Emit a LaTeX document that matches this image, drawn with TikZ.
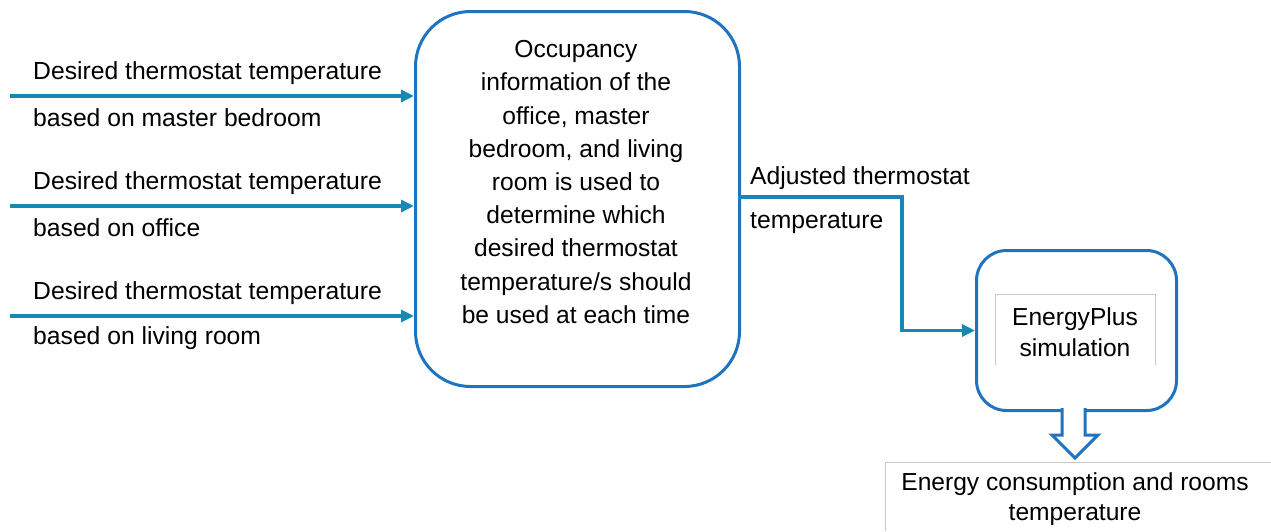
\documentclass[tikz,border=0pt]{standalone}
\usepackage{fontspec}
\setmainfont{Liberation Sans}
\usetikzlibrary{arrows.meta}
\definecolor{arrteal}{HTML}{1788B3}
\definecolor{boxblue}{HTML}{1F74C0}
\definecolor{lightgray}{HTML}{C8C8C8}
\tikzset{
  arr/.style={draw=arrteal, line width=3.5pt, -{Triangle[length=13pt,width=12pt]}},
  roundbox/.style={draw=boxblue, line width=3pt, fill=white},
  lbl/.style={font=\fontsize{24.7pt}{28pt}\selectfont, inner sep=0pt, anchor=west},
  ctext/.style={font=\fontsize{24.6pt}{33.2pt}\selectfont, inner sep=0pt, align=center}
}
\begin{document}
\begin{tikzpicture}[x=1pt,y=-1pt]
\useasboundingbox (0,0) rectangle (1271,531);
% big box
\node[roundbox, rounded corners=55pt, minimum width=324pt, minimum height=375pt, anchor=north west] (bigbox) at (414,10) {};
\node[ctext] (bigtext) at (576,182) {Occupancy\\information of the\\office, master\\bedroom, and living\\room is used to\\determine which\\desired thermostat\\temperature/s should\\be used at each time};
% inputs
\coordinate (in1) at (10,96);
\coordinate (in2) at (10,206);
\coordinate (in3) at (10,316);
\draw[arr] (in1) -- (in1 -| bigbox.west);
\draw[arr] (in2) -- (in2 -| bigbox.west);
\draw[arr] (in3) -- (in3 -| bigbox.west);
\node[lbl] (l1a) at (33,73) {Desired thermostat temperature};
\node[lbl] (l1b) at (33,118) {based on master bedroom};
\node[lbl] (l2a) at (33,183) {Desired thermostat temperature};
\node[lbl] (l2b) at (33,228) {based on office};
\node[lbl] (l3a) at (33,293) {Desired thermostat temperature};
\node[lbl] (l3b) at (33,338) {based on living room};
% block arrow
\node[roundbox, rounded corners=30pt, minimum width=200pt, minimum height=160pt, anchor=north west] (epbox) at (975,249) {};
\draw[draw=boxblue, line width=3pt, fill=white, line join=miter]
  (1062,408) -- (1062,435) -- (1052,435) -- (1075,458) -- (1098,435) -- (1085,435) -- (1085,408);
% output connector
\coordinate (o1) at (738,197);
\coordinate (bend) at (902,197);
\draw[arr] (o1) -- (bend) |- (epbox.west);
\node[lbl] (adj1) at (750,178) {Adjusted thermostat};
\node[lbl] (adj2) at (750,223) {temperature};
% inner gray frame
\draw[lightgray, line width=1pt] (995,365) -- (995,294) -- (1155,294) -- (1155,365);
\node[ctext, font=\fontsize{24.6pt}{30.5pt}\selectfont] (eptext) at (1075,332) {EnergyPlus\\simulation};
% bottom box
\draw[lightgray, line width=1pt] (885,531) -- (885,462) -- (1271,462);
\node[ctext, font=\fontsize{24.6pt}{30pt}\selectfont] (outtext) at (1075,499) {Energy consumption and rooms\\temperature};
\end{tikzpicture}
\end{document}
